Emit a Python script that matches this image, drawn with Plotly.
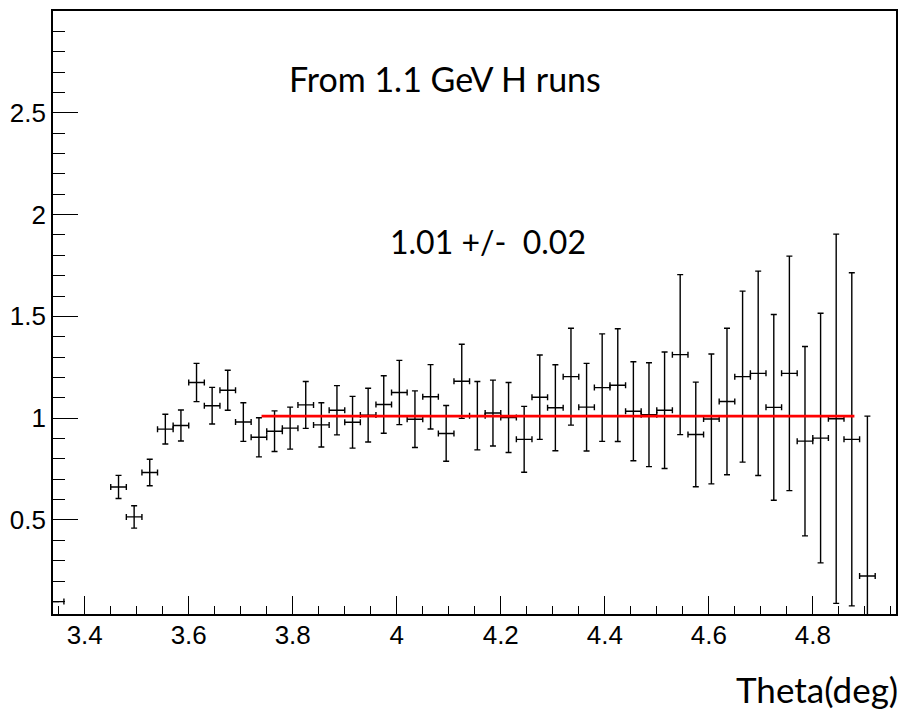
import plotly.graph_objects as go

# Bin centres (deg) and ratio values with their statistical errors
theta = [3.345, 3.465, 3.495, 3.525, 3.555, 3.585, 3.615, 3.645, 3.675, 3.705,
         3.735, 3.765, 3.795, 3.825, 3.855, 3.885, 3.915, 3.945, 3.975, 4.005,
         4.035, 4.065, 4.095, 4.125, 4.155, 4.185, 4.215, 4.245, 4.275, 4.305,
         4.335, 4.365, 4.395, 4.425, 4.455, 4.485, 4.515, 4.545, 4.575, 4.605,
         4.635, 4.665, 4.695, 4.725, 4.755, 4.785, 4.815, 4.845, 4.875, 4.905]
ratio = [0.099, 0.662, 0.515, 0.733, 0.946, 0.964, 1.175, 1.061, 1.137, 0.981,
         0.906, 0.936, 0.951, 1.065, 0.967, 1.039, 0.980, 1.015, 1.067, 1.126,
         0.995, 1.105, 0.925, 1.181, 1.012, 1.025, 1.003, 0.896, 1.103, 1.051,
         1.204, 1.054, 1.150, 1.162, 1.034, 1.017, 1.039, 1.312, 0.920, 0.996,
         1.082, 1.204, 1.220, 1.053, 1.220, 0.887, 0.902, 0.997, 0.896, 0.225]
ratio_err = [0.0, 0.057, 0.055, 0.065, 0.073, 0.076, 0.094, 0.090, 0.098, 0.095,
             0.096, 0.100, 0.103, 0.115, 0.109, 0.121, 0.127, 0.132, 0.141, 0.158,
             0.139, 0.158, 0.137, 0.182, 0.168, 0.162, 0.172, 0.162, 0.207, 0.211,
             0.238, 0.215, 0.264, 0.277, 0.243, 0.255, 0.286, 0.393, 0.257, 0.319,
             0.360, 0.420, 0.502, 0.456, 0.576, 0.465, 0.613, 0.907, 0.818, 0.785]
bin_half_width = 0.015

# Constant fit result and its range
fit_value = 1.01
fit_range = [3.74, 4.88]

x_range = [3.339, 4.96]
y_range = [0.038, 3.0]

fig = go.Figure()

fig.add_trace(go.Scatter(
    x=theta, y=ratio, mode="markers",
    marker=dict(size=1, color="rgba(0,0,0,0)"),
    error_x=dict(type="constant", value=bin_half_width, color="black",
                 thickness=1.4, width=3),
    error_y=dict(type="data", array=ratio_err, color="black",
                 thickness=1.4, width=3),
    showlegend=False, hoverinfo="skip",
))

fig.add_trace(go.Scatter(
    x=fit_range, y=[fit_value, fit_value], mode="lines",
    line=dict(color="#ff0000", width=2.6),
    showlegend=False, hoverinfo="skip",
))

tick_font = dict(family="Liberation Sans, Arial, sans-serif", size=26, color="black")
text_font = "Lato, Open Sans, sans-serif"

fig.update_layout(
    width=909, height=714,
    margin=dict(l=53, r=13, t=9, b=100),
    paper_bgcolor="white", plot_bgcolor="white",
    xaxis=dict(
        range=x_range, tickvals=[3.4, 3.6, 3.8, 4.0, 4.2, 4.4, 4.6, 4.8],
        ticktext=["3.4", "3.6", "3.8", "4", "4.2", "4.4", "4.6", "4.8"],
        ticks="inside", ticklen=18, tickwidth=1.3, tickcolor="black",
        minor=dict(dtick=0.05, tick0=3.4, ticks="inside", ticklen=8.5,
                   tickwidth=1.3, tickcolor="black", showgrid=False),
        showgrid=False, zeroline=False,
        showline=True, mirror=True, linecolor="black", linewidth=1.8,
        tickfont=tick_font, ticklabelstandoff=-3,
    ),
    yaxis=dict(
        range=y_range, tickvals=[0.5, 1.0, 1.5, 2.0, 2.5],
        ticktext=["0.5", "1", "1.5", "2", "2.5"],
        ticks="inside", ticklen=25, tickwidth=1.3, tickcolor="black",
        minor=dict(dtick=0.1, tick0=0, ticks="inside", ticklen=12.5,
                   tickwidth=1.3, tickcolor="black", showgrid=False),
        showgrid=False, zeroline=False,
        showline=True, mirror=True, linecolor="black", linewidth=1.8,
        tickfont=tick_font,
    ),
    annotations=[
        dict(text="From 1.1 GeV H runs", x=3.788, y=2.67, xref="x", yref="y",
             xanchor="left", yanchor="middle", showarrow=False,
             font=dict(family=text_font, size=34, color="black")),
        dict(text="1.01 +/-  0.02", x=3.983, y=1.87, xref="x", yref="y",
             xanchor="left", yanchor="middle", showarrow=False,
             font=dict(family=text_font, size=32, color="black")),
        dict(text="Theta(deg)", x=1.0048, y=-0.125, xref="paper", yref="paper",
             xanchor="right", yanchor="middle", showarrow=False,
             font=dict(family=text_font, size=35, color="black")),
    ],
)

fig.write_html("out.html")
